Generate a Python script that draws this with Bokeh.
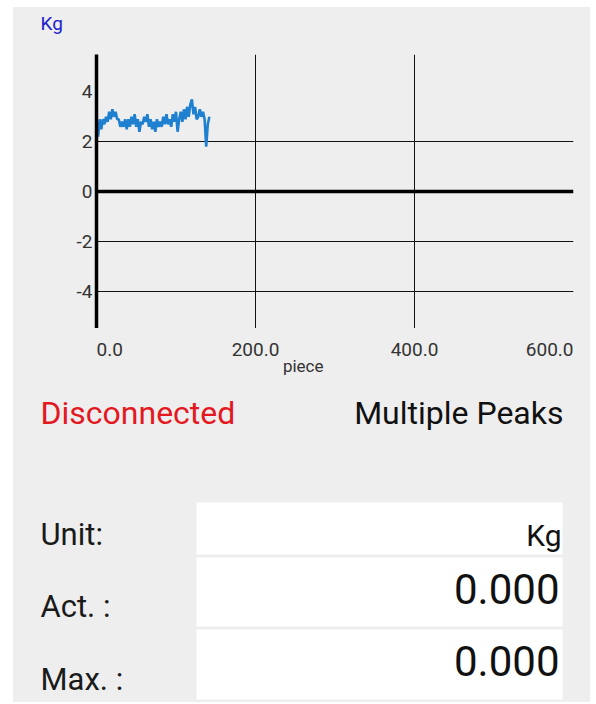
from bokeh.plotting import figure
from bokeh.models import Range1d, FixedTicker, Span, Spacer
from bokeh.layouts import row, column
from bokeh.core.properties import value
from bokeh.embed import file_html
from bokeh.resources import INLINE

# ---------------- data ----------------
weight_kg = [
    2.8, 2.2, 2.9, 2.5, 2.9, 2.7, 3.0, 2.8, 3.2, 2.9, 3.3, 3.0, 3.2, 2.9,
    2.9, 2.6, 2.8, 2.6, 2.9, 2.5, 2.9, 2.6, 3.0, 2.7, 3.1, 2.6, 2.9,
    2.4, 2.8, 2.7, 3.0, 2.8, 3.1, 2.6, 2.9, 2.5, 2.8, 2.4, 2.9, 2.6,
    2.8, 2.6, 3.0, 2.7, 3.1, 2.7, 2.9, 2.6, 3.1, 2.8, 3.2, 2.4, 2.9,
    3.2, 2.8, 3.3, 2.9, 3.4, 3.0, 3.5, 3.7, 3.1, 3.4, 2.9, 3.0, 3.3,
    3.0, 3.2, 2.9, 1.8, 2.7, 3.0,
]
piece = list(range(0, 2 * len(weight_kg), 2))

x_ticks = [0, 200, 400, 600]
x_tick_labels = ["0.0", "200.0", "400.0", "600.0"]
x_grid = [200, 400]
y_ticks = [-4, -2, 0, 2, 4]
y_tick_labels = ["-4", "-2", "0", "2", "4"]
y_grid = [-4, -2, 2]
y_unit = "Kg"
x_title = "piece"

status_left = "Disconnected"
status_right = "Multiple Peaks"
table_labels = ["Unit:", "Act. :", "Max. :"]
table_values = ["Kg", "0.000", "0.000"]

# ---------------- styles ----------------
BG = "#eeeeee"
FONT = value("Roboto")
TICK_COLOR = "#333333"
W = 577


def panel(height, y0, y1):
    f = figure(width=W, height=height, x_range=Range1d(13, 590), y_range=Range1d(y1, y0),
               output_backend="svg", toolbar_location=None, min_border=0,
               x_axis_type=None, y_axis_type=None,
               background_fill_color=BG, border_fill_color=BG, outline_line_color=None)
    f.grid.visible = False
    return f


# ---------------- top band: unit ----------------
p_top = panel(47, 7, 54)
p_top.text(x=[40], y=[23], text=[y_unit], text_color="#2020cc", text_font=FONT,
           text_font_size="19px", text_baseline="alphabetic", text_align="left")

# ---------------- chart ----------------
p = figure(width=W, height=274, x_range=Range1d(0, 600), y_range=Range1d(-5.5, 5.5),
           output_backend="svg", toolbar_location=None, x_axis_location=None,
           min_border_left=83, min_border_right=17, min_border_top=0, min_border_bottom=0,
           background_fill_color=BG, border_fill_color=BG, outline_line_color=None)

yax = p.yaxis[0]
yax.ticker = FixedTicker(ticks=y_ticks)
yax.major_label_overrides = dict(zip(y_ticks, y_tick_labels))
yax.axis_line_color = "black"
yax.axis_line_width = 3.5
yax.major_tick_line_color = None
yax.minor_tick_line_color = None
yax.major_tick_out = 0
yax.major_label_standoff = 4
yax.major_label_text_font = "Roboto"
yax.major_label_text_font_size = "19px"
yax.major_label_text_color = TICK_COLOR

p.xgrid.ticker = FixedTicker(ticks=x_grid)
p.ygrid.ticker = FixedTicker(ticks=y_grid)
for g in (p.xgrid[0], p.ygrid[0]):
    g.grid_line_color = "#111111"
    g.grid_line_width = 1

p.add_layout(Span(location=0, dimension="width", line_color="black", line_width=3.5))
p.line(piece, weight_kg, line_color="#1f80d0", line_width=2.6)

# ---------------- x tick labels band (shares the chart's x scale) ----------------
p_x = figure(width=W, height=52, x_range=p.x_range, y_range=Range1d(52, 0),
             output_backend="svg", toolbar_location=None,
             x_axis_type=None, y_axis_type=None,
             min_border_left=83, min_border_right=17, min_border_top=0, min_border_bottom=0,
             background_fill_color=BG, border_fill_color=BG, outline_line_color=None)
p_x.grid.visible = False
p_x.text(x=x_ticks, y=[21] * len(x_ticks), text=x_tick_labels,
         text_align=["left", "center", "center", "right"], text_baseline="alphabetic",
         text_font=FONT, text_font_size="19px", text_color=TICK_COLOR)
p_x.text(x=[260], y=[37], text=[x_title], text_align="center", text_baseline="alphabetic",
         text_font=FONT, text_font_size="17px", text_color=TICK_COLOR)

# ---------------- info panel ----------------
p2 = panel(322, 380, 702)
p2.text(x=[40], y=[412], text=[status_left], text_color="#e3191f", text_font=FONT,
        text_font_size="32px", text_baseline="alphabetic", text_align="left")
p2.text(x=[563], y=[412], text=[status_right], text_color="#111111", text_font=FONT,
        text_font_size="32px", text_baseline="alphabetic", text_align="right")

row_top = [502, 557, 629]
row_bottom = [554, 626, 699]
p2.quad(left=196, right=562, top=row_top, bottom=row_bottom, fill_color="white",
        line_color=None)

p2.text(x=[40, 40, 40], y=[534, 606, 679], text=table_labels, text_color="#1a1a1a",
        text_font=FONT, text_font_size="31px", text_baseline="alphabetic", text_align="left")
p2.text(x=[561, 559, 559], y=[535, 588, 660], text=table_values, text_color="#111111",
        text_font=FONT, text_font_size=["30px", "42px", "42px"], text_baseline="alphabetic",
        text_align="right")

gray_block = column(row(p_top), row(p), row(p_x), row(p2),
                    styles={"background-color": BG})

layout = column(
    Spacer(width=W + 13, height=7),
    row(Spacer(width=13, height=695), gray_block),
)

open("out.html", "w").write(file_html(layout, INLINE))
